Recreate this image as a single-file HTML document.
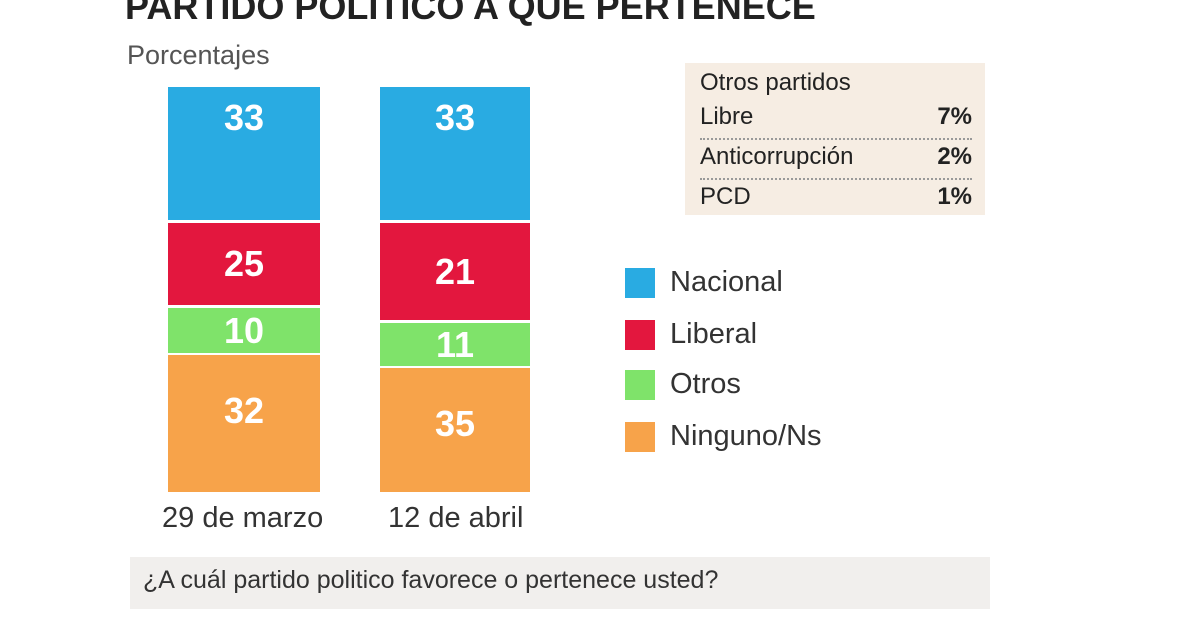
<!DOCTYPE html>
<html><head><meta charset="utf-8"><style>
body{margin:0;width:1200px;height:630px;background:#fff;overflow:hidden;position:relative;font-family:"Liberation Sans",sans-serif;color:#333}
.a{position:absolute}
.seg{position:absolute;color:#fff;font-weight:bold;font-size:36px;display:flex;align-items:center;justify-content:center}
.lg{position:absolute;left:625px;width:30px;height:30px}
.lt{position:absolute;left:670px;font-size:29px;color:#333}
.row{position:absolute;left:700px;width:272px;font-size:24px;color:#222;display:flex;justify-content:space-between}
</style></head><body>
<div class="a" style="left:125px;top:-14px;font-size:36px;font-weight:bold;color:#222">PARTIDO POLITICO A QUE PERTENECE</div>
<div class="a" style="left:127px;top:40px;font-size:27px;color:#555">Porcentajes</div>

<div class="seg" style="left:168px;width:152px;top:87px;height:133px;background:#29abe2;align-items:flex-start;padding-top:10px;box-sizing:border-box">33</div>
<div class="seg" style="left:168px;width:152px;top:223px;height:82px;background:#e3173e">25</div>
<div class="seg" style="left:168px;width:152px;top:308px;height:45px;background:#7fe36a">10</div>
<div class="seg" style="left:168px;width:152px;top:355px;height:137px;background:#f7a34a;align-items:flex-start;padding-top:35px;box-sizing:border-box">32</div>

<div class="seg" style="left:380px;width:150px;top:87px;height:133px;background:#29abe2;align-items:flex-start;padding-top:10px;box-sizing:border-box">33</div>
<div class="seg" style="left:380px;width:150px;top:223px;height:97px;background:#e3173e">21</div>
<div class="seg" style="left:380px;width:150px;top:323px;height:43px;background:#7fe36a">11</div>
<div class="seg" style="left:380px;width:150px;top:368px;height:124px;background:#f7a34a;align-items:flex-start;padding-top:35px;box-sizing:border-box">35</div>

<div class="a" style="left:162px;top:502px;font-size:29px;color:#333">29 de marzo</div>
<div class="a" style="left:388px;top:502px;font-size:29px;color:#333">12 de abril</div>

<div class="a" style="left:685px;top:63px;width:300px;height:152px;background:#f6ede3"></div>
<div class="row" style="top:69px">Otros partidos</div>
<div class="row" style="top:103px;font-weight:bold"><span style="font-weight:normal">Libre</span><span>7%</span></div>
<div class="a" style="left:700px;top:138px;width:272px;border-top:2px dotted #999"></div>
<div class="row" style="top:143px;font-weight:bold"><span style="font-weight:normal">Anticorrupción</span><span>2%</span></div>
<div class="a" style="left:700px;top:178px;width:272px;border-top:2px dotted #999"></div>
<div class="row" style="top:183px;font-weight:bold"><span style="font-weight:normal">PCD</span><span>1%</span></div>

<div class="lg" style="top:268px;background:#29abe2"></div><div class="lt" style="top:266px">Nacional</div>
<div class="lg" style="top:320px;background:#e3173e"></div><div class="lt" style="top:318px">Liberal</div>
<div class="lg" style="top:370px;background:#7fe36a"></div><div class="lt" style="top:368px">Otros</div>
<div class="lg" style="top:422px;background:#f7a34a"></div><div class="lt" style="top:420px">Ninguno/Ns</div>

<div class="a" style="left:130px;top:557px;width:860px;height:52px;background:#f1efed"></div>
<div class="a" style="left:143px;top:566px;font-size:25px;color:#333">¿A cuál partido politico favorece o pertenece usted?</div>
</body></html>
